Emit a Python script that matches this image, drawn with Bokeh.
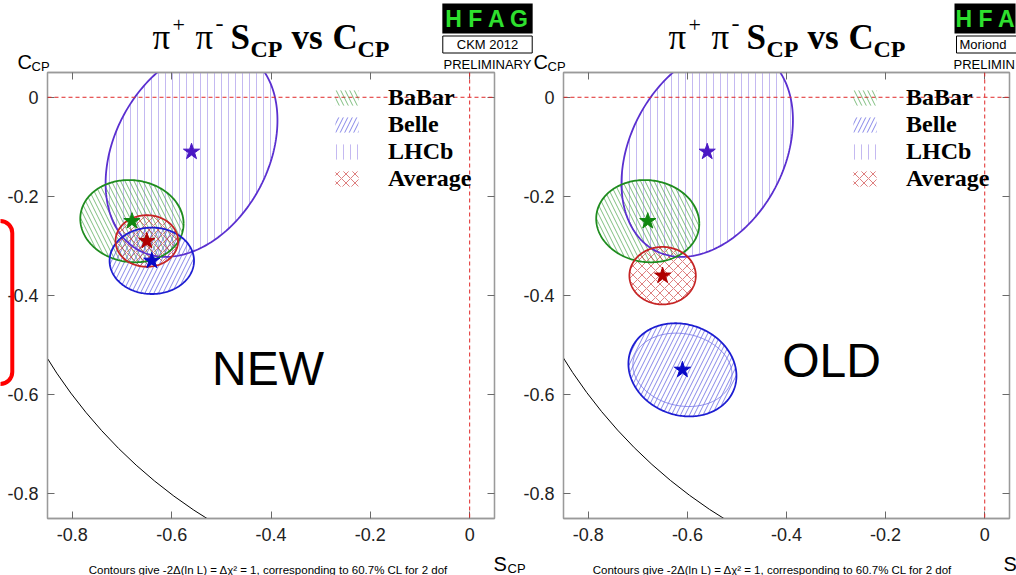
import numpy as np
from bokeh.plotting import figure
from bokeh.models import Range1d, LinearAxis, FixedTicker, Span, Label, Legend, LegendItem
from bokeh.layouts import row, column
from bokeh.embed import file_html
from bokeh.resources import INLINE

# ---------------- data ----------------
experiments = ["BaBar", "Belle", "LHCb", "Average"]

# NEW panel (CKM 2012)
new_S = [-0.68, -0.64, -0.56, -0.65]
new_C = [-0.25, -0.33, -0.11, -0.29]
new_err_S = [0.104, 0.085, 0.173, 0.063]
new_err_C = [0.083, 0.067, 0.212, 0.052]
new_rho = [-0.06, 0.0, 0.30, 0.0]

# OLD panel (Moriond 2012)
old_S = [-0.68, -0.61, -0.56, -0.65]
old_C = [-0.25, -0.55, -0.11, -0.36]
old_err_S = [0.104, 0.109, 0.173, 0.067]
old_err_C = [0.083, 0.094, 0.212, 0.058]
old_rho = [-0.06, -0.13, 0.30, 0.0]
# Belle (old) statistical-only contour
belle_old_stat_err_S = 0.100
belle_old_stat_err_C = 0.074

x_ticks = [-0.8, -0.6, -0.4, -0.2, 0.0]
x_tick_labels = ["-0.8", "-0.6", "-0.4", "-0.2", "0"]
y_ticks = [0.0, -0.2, -0.4, -0.6, -0.8]
y_tick_labels = ["0", "-0.2", "-0.4", "-0.6", "-0.8"]
S_range = (-0.85, 0.05)
C_range = (-0.85, 0.05)
physical_radius = 1.0

title_parts = ["\u03c0", "+", "\u03c0", "-", "S", "CP", "vs", "C", "CP"]
footer = "Contours give -2\u0394(ln L) = \u0394\u03c7\u00b2 = 1, corresponding to 60.7% CL for 2 dof"

# ---------------- styles ----------------
STYLE = {
    "BaBar": dict(line="#1e8c1e", hatch="#3b9b3b", pattern="\\", star="#0f870f", scale=9),
    "Belle": dict(line="#1d1dd2", hatch="#4646dc", pattern="/", star="#0808c8", scale=9),
    "LHCb": dict(line="#5a2fd0", hatch="#a493ea", pattern="|", star="#4a18c4", scale=7),
    "Average": dict(line="#c62424", hatch="#cc3a3a", pattern="x", star="#b00000", scale=9),
}

FRAME_TOP, FRAME_H = 72, 446


def ellipse(mx, my, sx, sy, rho, n=240):
    t = np.linspace(0, 2 * np.pi, n)
    x = mx + sx * np.cos(t)
    y = my + sy * (rho * np.cos(t) + np.sqrt(1 - rho ** 2) * np.sin(t))
    return x, y


def style_axis(ax, ticks, labels, show):
    ax.ticker = FixedTicker(ticks=ticks)
    ax.major_label_overrides = dict(zip(ticks, labels if show else [""] * len(ticks)))
    ax.axis_line_color = "#9a9a9a"
    ax.axis_line_width = 1.3
    ax.major_tick_in = 7
    ax.major_tick_out = 0
    ax.major_tick_line_color = "#6a6a6a"
    ax.minor_tick_line_color = None
    ax.major_label_text_font = "Liberation Sans"
    ax.major_label_text_font_size = "18px"
    ax.major_label_text_color = "#222222"
    ax.major_label_standoff = 9 if show else 0


def make_panel(width, border_left, border_right, S, C, eS, eC, rho, order,
               word, word_xy, legend_x, stat_extra=None):
    p = figure(width=width, height=575, x_range=Range1d(*S_range), y_range=Range1d(*C_range),
               output_backend="svg", toolbar_location=None, x_axis_type=None, y_axis_type=None,
               min_border_left=border_left, min_border_right=border_right,
               min_border_top=FRAME_TOP, min_border_bottom=575 - FRAME_TOP - FRAME_H)
    p.outline_line_color = "#9a9a9a"
    p.outline_line_width = 1.3
    p.background_fill_color = "white"
    p.border_fill_alpha = 0

    for loc, ticks, labels, show in [("below", x_ticks, x_tick_labels, True),
                                     ("above", x_ticks, x_tick_labels, False),
                                     ("left", y_ticks, y_tick_labels, True),
                                     ("right", y_ticks, y_tick_labels, False)]:
        ax = LinearAxis()
        style_axis(ax, ticks, labels, show)
        p.add_layout(ax, loc)

    # reference lines
    p.add_layout(Span(location=0, dimension="width", line_color="#e02828", line_width=1, line_dash="4 3"))
    p.add_layout(Span(location=0, dimension="height", line_color="#e02828", line_width=1, line_dash="4 3"))

    # physical boundary S^2 + C^2 = 1
    p.circle(x=[0], y=[0], radius=physical_radius, fill_color=None, line_color="black", line_width=1)

    fills = {}
    for name in order:
        i = experiments.index(name)
        st = STYLE[name]
        ex, ey = ellipse(S[i], C[i], eS[i], eC[i], rho[i])
        fills[name] = p.patch(ex, ey, fill_alpha=0, line_alpha=0, hatch_pattern=st["pattern"],
                              hatch_color=st["hatch"], hatch_alpha=0.65, hatch_scale=st["scale"],
                              hatch_weight=1)
    if stat_extra is not None:
        name, sS, sC = stat_extra
        i = experiments.index(name)
        ex, ey = ellipse(S[i], C[i], sS, sC, rho[i])
        p.line(ex, ey, line_color="#7070e8", line_width=1, line_alpha=0.8)
    for name in order:
        i = experiments.index(name)
        ex, ey = ellipse(S[i], C[i], eS[i], eC[i], rho[i])
        p.line(ex, ey, line_color=STYLE[name]["line"], line_width=1.8)
    for name in order:
        i = experiments.index(name)
        p.scatter([S[i]], [C[i]], marker="star", size=17, fill_color=STYLE[name]["star"],
                  line_color=STYLE[name]["star"])

    # legend
    box = p.rect(x=[], y=[], width=0.01, height=0.01, fill_alpha=0, line_color="#c4c4c4", line_width=1)
    items = [LegendItem(label=n, renderers=[fills[n], box]) for n in experiments]
    leg = Legend(items=items, location=(legend_x, FRAME_H - 12 - 108), orientation="vertical",
                 glyph_width=29, glyph_height=19, label_height=19, spacing=0, padding=0, margin=0,
                 label_standoff=27, border_line_alpha=0, background_fill_alpha=0,
                 label_text_font="Liberation Serif", label_text_font_style="bold",
                 label_text_font_size="24px", label_text_color="black")
    p.add_layout(leg)

    # big word inside the frame
    fw = 446
    wx = S_range[0] + (word_xy[0] - border_left) / fw * 0.9
    wy = C_range[1] - (word_xy[1] - FRAME_TOP) / FRAME_H * 0.9
    p.add_layout(Label(x=wx, y=wy, text=word, text_font="Liberation Sans", text_font_size="48px",
                       text_align="center", text_baseline="middle", text_color="black"))
    return p


left = make_panel(532, 47, 38, new_S, new_C, new_err_S, new_err_C, new_rho,
                  ["LHCb", "BaBar", "Belle", "Average"], "NEW", (267, 368), 285)
right = make_panel(496, 43, 7, old_S, old_C, old_err_S, old_err_C, old_rho,
                   ["LHCb", "BaBar", "Average", "Belle"], "OLD", (831 - 520, 360), 287,
                   stat_extra=("Belle", belle_old_stat_err_S, belle_old_stat_err_C))
right.styles = {"margin-left": "-12px"}

# ---------------- overlay for texts outside the plot frames (page pixel coordinates) ----------------
ov = figure(width=1016, height=575, x_range=Range1d(0, 1016), y_range=Range1d(575, 0),
            output_backend="svg", toolbar_location=None, x_axis_type=None, y_axis_type=None,
            min_border_left=0, min_border_right=0, min_border_top=0, min_border_bottom=0)
ov.outline_line_color = None
ov.background_fill_alpha = 0
ov.border_fill_alpha = 0
ov.styles = {"margin-top": "-575px"}


def txt(X, Y, text, size, font="Liberation Sans", style="normal", color="#000000",
        align="left", baseline="alphabetic", **kw):
    ov.add_layout(Label(x=X, y=Y, text=text, text_font=font, text_font_size=f"{size}px",
                        text_font_style=style, text_color=color, text_align=align,
                        text_baseline=baseline, **kw))


title_layout = [(0, 37, 35, "normal"), (20, 24, 22, "normal"), (43, 37, 35, "normal"),
                (63, 23, 24, "normal"), (78, 37, 35, "bold"), (98, 48, 24, "bold"),
                (139, 37, 35, "bold"), (180, 37, 35, "bold"), (205, 48, 24, "bold")]
for x0 in (152, 668):
    for part, (dx, by, sz, stl) in zip(title_parts, title_layout):
        txt(x0 + dx, by, part, sz, font="Liberation Serif", style=stl)

# HFAG logo, left (complete)
txt(487, 18, "H F A G", 23, style="bold", color="#2ee02e", align="center", baseline="middle",
    background_fill_color="black", padding=dict(left=3, right=3, top=2, bottom=2))
txt(487, 44, "CKM 2012", 13, align="center", baseline="middle",
    background_fill_color="white", border_line_color="black", border_line_width=1,
    padding=dict(left=14, right=14, top=1, bottom=1))
txt(487, 64, "PRELIMINARY", 13, align="center")
# HFAG logo, right (cut by the page edge)
txt(954, 18, "H F A", 23, style="bold", color="#2ee02e", baseline="middle",
    background_fill_color="black", padding=dict(left=1, right=0, top=2, bottom=2))
txt(956, 44, "Moriond", 13, baseline="middle",
    background_fill_color="white", border_line_color="black", border_line_width=1,
    padding=dict(left=3, right=12, top=1, bottom=1))
txt(953, 64, "PRELIMIN", 13)

# axis titles
for fl in (47, 563):
    txt(fl - 30, 61, "C", 20)
    txt(fl - 16, 66, "CP", 13)
txt(493, 563, "S", 20)
txt(507, 568, "CP", 13)
txt(1003, 563, "S", 20)

# footers
txt(268, 569, footer, 11.5, align="center")
txt(772, 569, footer, 11.5, align="center")

# red rounded marker box on the left page edge
ov.add_layout(Label(x=-25, y=302, text=" ", text_font_size="10px", text_baseline="middle",
                    border_line_color="#ff0000", border_line_width=4, border_radius=12,
                    padding=dict(left=20, right=14, top=76, bottom=76)))

layout = column(row(left, right), ov)
open("out.html", "w").write(file_html(layout, INLINE))
